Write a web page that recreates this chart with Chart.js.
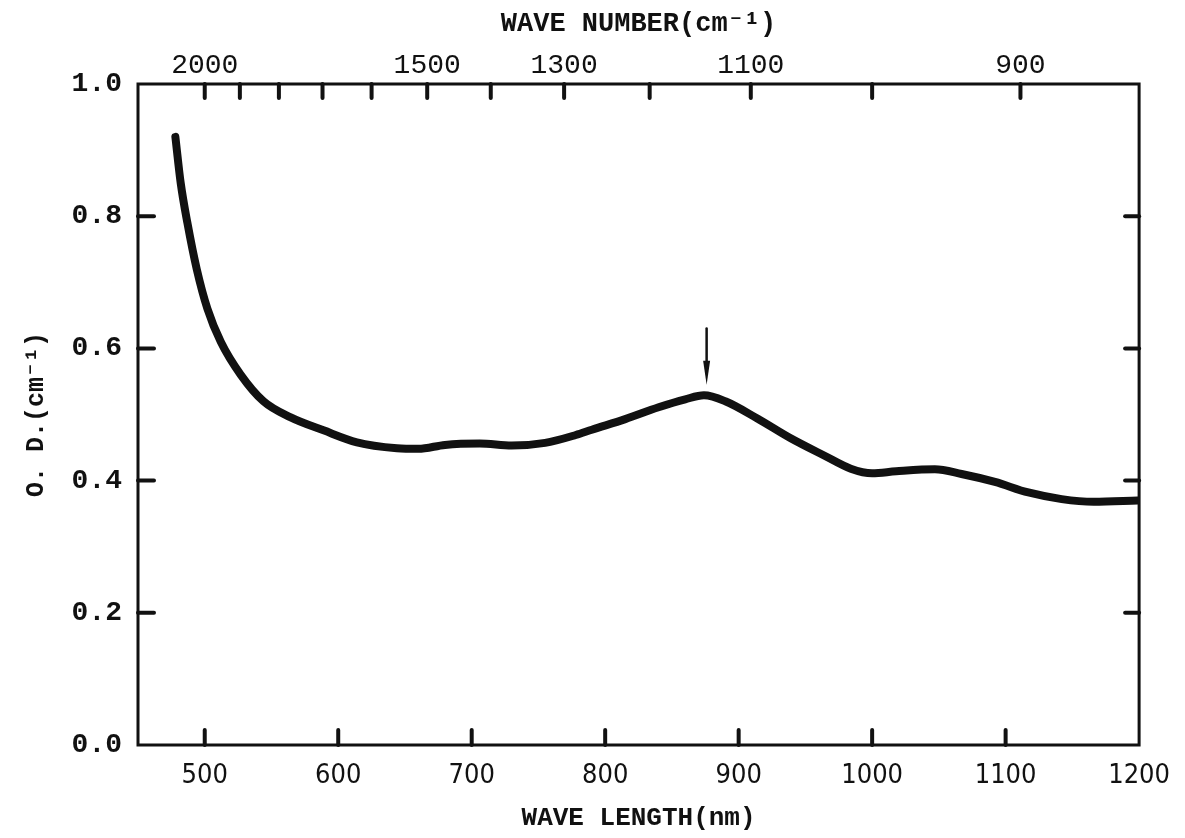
<!DOCTYPE html>
<html>
<head>
<meta charset="utf-8">
<script src="https://cdn.jsdelivr.net/npm/chart.js@4/dist/chart.umd.min.js"></script>
<style>
    html, body { margin: 0; padding: 0; background: #fff; }
    #wrap { width: 1185px; height: 838px; }
</style>
</head>
<body>
<div id="wrap"><canvas id="spectrum"></canvas></div>
<script>
// absorption spectrum
const waveLength = [478, 482, 487, 494, 502, 512, 527, 544, 564, 589, 614, 644, 660, 680, 706, 730, 755, 778, 790, 815, 840, 860, 874, 890, 914, 939, 964, 984, 1000, 1018, 1047, 1067, 1092, 1117, 1142, 1166, 1199];
const opticalDensity = [0.92, 0.85, 0.79, 0.72, 0.66, 0.61, 0.56, 0.52, 0.496, 0.476, 0.458, 0.449, 0.448, 0.454, 0.456, 0.453, 0.457, 0.469, 0.477, 0.493, 0.511, 0.523, 0.529, 0.520, 0.494, 0.464, 0.438, 0.418, 0.411, 0.414, 0.417, 0.410, 0.398, 0.382, 0.372, 0.368, 0.370];

const waveLengthTicks = [500, 600, 700, 800, 900, 1000, 1100, 1200];
const odTicks = [0.0, 0.2, 0.4, 0.6, 0.8, 1.0];
const waveNumberTicks = [2000, 1900, 1800, 1700, 1600, 1500, 1400, 1300, 1200, 1100, 1000, 900];
const waveNumberLabels = [2000, 1500, 1300, 1100, 900];

// arrow marking the peak
const peakArrow = { x: 876, from: 0.63, to: 0.545 };

const monoFont = "'Liberation Mono', 'DejaVu Sans Mono', monospace";
const narrowFont = "'Liberation Sans Narrow', 'DejaVu Sans Condensed', 'Liberation Sans', sans-serif";

const inwardTicks = {
    id: "inwardTicks",
    afterDatasetsDraw(chart) {
        const { ctx, chartArea: a, scales } = chart;
        const line = (x1, y1, x2, y2) => {
            ctx.beginPath();
            ctx.moveTo(x1, y1);
            ctx.lineTo(x2, y2);
            ctx.stroke();
        };
        ctx.save();
        ctx.strokeStyle = "#111";
        ctx.lineWidth = 3;
        ctx.strokeRect(a.left, a.top, a.right - a.left, a.bottom - a.top);

        ctx.lineWidth = 4;
        ctx.lineCap = "round";
        scales.x.ticks.forEach((t) => {
            const px = scales.x.getPixelForValue(t.value);
            if (px > a.left + 3 && px < a.right - 3) line(px, a.bottom, px, a.bottom - 15);
        });
        scales.x2.ticks.forEach((t) => {
            const px = scales.x2.getPixelForValue(t.value);
            if (px > a.left + 3 && px < a.right - 3) line(px, a.top, px, a.top + 14);
        });
        scales.y.ticks.forEach((t) => {
            const py = scales.y.getPixelForValue(t.value);
            if (py > a.top + 3 && py < a.bottom - 3) {
                line(a.left, py, a.left + 16, py);
                line(a.right, py, a.right - 14, py);
            }
        });

        // arrow
        const ax = scales.x.getPixelForValue(peakArrow.x);
        const y1 = scales.y.getPixelForValue(peakArrow.from);
        const y2 = scales.y.getPixelForValue(peakArrow.to);
        ctx.lineWidth = 2.5;
        line(ax, y1, ax, y2 - 12);
        ctx.fillStyle = "#111";
        ctx.beginPath();
        ctx.moveTo(ax - 3.5, y2 - 24);
        ctx.lineTo(ax + 3.5, y2 - 24);
        ctx.lineTo(ax, y2);
        ctx.closePath();
        ctx.fill();
        ctx.restore();
    },
};

new Chart(document.getElementById("spectrum"), {
    type: "line",
    data: {
        datasets: [
            {
                data: waveLength.map((x, i) => ({ x, y: opticalDensity[i] })),
                borderColor: "#111",
                borderWidth: 8,
                pointRadius: 0,
                cubicInterpolationMode: "monotone",
                borderCapStyle: "round",
                borderJoinStyle: "round",
            },
        ],
    },
    options: {
        responsive: true,
        maintainAspectRatio: false,
        animation: false,
        layout: { padding: 0 },
        plugins: {
            legend: { display: false },
            tooltip: { enabled: false },
        },
        scales: {
            x: {
                type: "linear",
                position: "bottom",
                min: 450,
                max: 1200,
                afterBuildTicks(scale) {
                    scale.ticks = waveLengthTicks.map((v) => ({ value: v }));
                },
                afterFit(scale) {
                    scale.height = 93;
                },
                grid: { display: false, drawTicks: false },
                border: { display: false },
                ticks: {
                    color: "#111",
                    padding: 15,
                    maxRotation: 0,
                    font: { family: narrowFont, size: 27 },
                    callback: (v) => String(v),
                },
                title: {
                    display: true,
                    text: "WAVE LENGTH(nm)",
                    color: "#111",
                    padding: { top: 0, bottom: 4 },
                    font: { family: monoFont, size: 26, weight: "bold" },
                },
            },
            x2: {
                type: "linear",
                position: "top",
                min: 450,
                max: 1200,
                afterBuildTicks(scale) {
                    scale.ticks = waveNumberTicks.map((w) => ({ value: 1e6 / w }));
                },
                afterFit(scale) {
                    scale.height = 84;
                },
                grid: { display: false, drawTicks: false },
                border: { display: false },
                ticks: {
                    color: "#111",
                    padding: 2,
                    maxRotation: 0,
                    autoSkip: false,
                    font: { family: monoFont, size: 28 },
                    callback(value) {
                        const w = Math.round(1e6 / value);
                        return waveNumberLabels.includes(w) ? String(w) : "";
                    },
                },
                title: {
                    display: true,
                    text: "WAVE NUMBER(cm⁻¹)",
                    color: "#111",
                    padding: { top: 8, bottom: 0 },
                    font: { family: monoFont, size: 27, weight: "bold" },
                },
            },
            y: {
                type: "linear",
                position: "left",
                min: 0,
                max: 1,
                afterBuildTicks(scale) {
                    scale.ticks = odTicks.map((v) => ({ value: v }));
                },
                afterFit(scale) {
                    scale.width = 138;
                },
                grid: { display: false, drawTicks: false },
                border: { display: false },
                ticks: {
                    color: "#111",
                    padding: 16,
                    font: { family: monoFont, size: 28, weight: "bold" },
                    callback: (v) => v.toFixed(1),
                },
                title: {
                    display: true,
                    text: "O. D.(cm⁻¹)",
                    color: "#111",
                    padding: { top: 22, bottom: 0 },
                    font: { family: monoFont, size: 25, weight: "bold" },
                },
            },
            y2: {
                type: "linear",
                position: "right",
                min: 0,
                max: 1,
                afterFit(scale) {
                    scale.width = 43;
                },
                grid: { display: false, drawTicks: false },
                border: { display: false },
                ticks: { display: false },
            },
        },
    },
    plugins: [inwardTicks],
});
</script>
</body>
</html>
